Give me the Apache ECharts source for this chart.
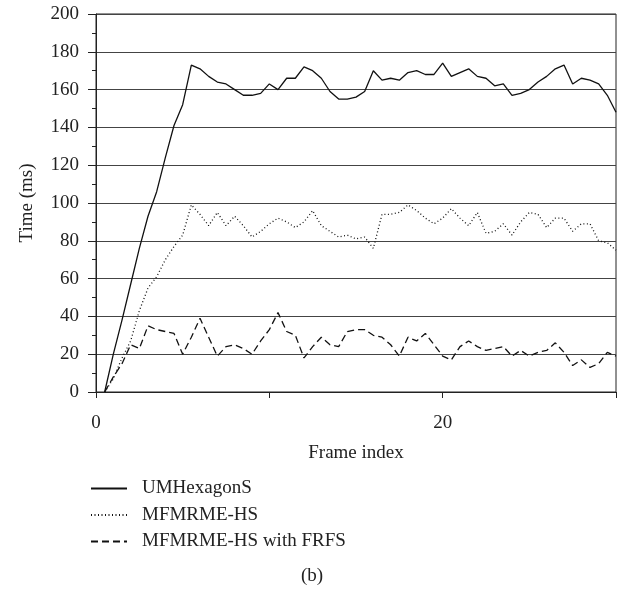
<!DOCTYPE html>
<html>
<head>
<meta charset="utf-8">
<script src="https://cdn.jsdelivr.net/npm/echarts@6/dist/echarts.min.js"></script>
<style>
    html, body { margin: 0; padding: 0; background: #fff; }
    #chart { width: 629px; height: 591px; }
</style>
</head>
<body>
<div id="chart"></div>
<script>
// frame index (half-frame steps as plotted)
var frames = [0.5, 1, 1.5, 2, 2.5, 3, 3.5, 4, 4.5, 5, 5.5, 6, 6.5, 7, 7.5, 8, 8.5, 9, 9.5, 10,
    10.5, 11, 11.5, 12, 12.5, 13, 13.5, 14, 14.5, 15, 15.5, 16, 16.5, 17, 17.5, 18, 18.5, 19, 19.5, 20,
    20.5, 21, 21.5, 22, 22.5, 23, 23.5, 24, 24.5, 25, 25.5, 26, 26.5, 27, 27.5, 28, 28.5, 29, 29.5, 30];

var umhexagons = [0, 20, 38, 57, 76, 93, 106, 124, 141, 152, 173, 171, 167, 164, 163, 160, 157, 157, 158, 163,
    160, 166, 166, 172, 170, 166, 159, 155, 155, 156, 159, 170, 165, 166, 165, 169, 170, 168, 168, 174,
    167, 169, 171, 167, 166, 162, 163, 157, 158, 160, 164, 167, 171, 173, 163, 166, 165, 163, 157, 148];

var mfmrme = [0, 7, 18, 27, 43, 55, 61, 70, 77, 83, 99, 94, 88, 95, 88, 93, 88, 82, 85, 89,
    92, 90, 87, 90, 96, 88, 85, 82, 83, 81, 82, 76, 94, 94, 95, 99, 96, 92, 89, 92,
    97, 92, 88, 95, 84, 85, 89, 83, 90, 95, 94, 87, 92, 92, 85, 89, 89, 80, 79, 75];

var mfmrmeFrfs = [0, 8, 15, 25, 23, 35, 33, 32, 31, 20, 29, 39, 29, 19, 24, 25, 23, 20, 27, 33,
    42, 32, 30, 18, 24, 29, 25, 24, 32, 33, 33, 30, 29, 25, 19, 29, 27, 31, 25, 19,
    17, 24, 27, 24, 22, 23, 24, 19, 22, 19, 21, 22, 26, 21, 14, 17, 13, 15, 21, 19];

var seriesNames = ['UMHexagonS', 'MFMRME-HS', 'MFMRME-HS with FRFS'];

var FONT = 'Liberation Serif';
var FS = 19;

function pairs(values) {
    return frames.map(function (f, i) { return [f, values[i]]; });
}

function lineSeries(name, values, type, width) {
    return {
        name: name,
        type: 'line',
        data: pairs(values),
        symbol: 'none',
        showSymbol: false,
        animation: false,
        itemStyle: { color: '#111' },
        lineStyle: { color: '#111', width: width, type: type }
    };
}

var chart = echarts.init(document.getElementById('chart'));

chart.setOption({
    backgroundColor: '#fff',
    animation: false,
    grid: {
        left: 96, right: 13, top: 14, bottom: 199,
        show: true, borderColor: '#222', borderWidth: 1
    },
    legend: {
        orient: 'vertical',
        left: 85,
        top: 474,
        itemWidth: 36,
        itemHeight: 14,
        itemGap: 7.5,
        data: seriesNames,
        itemStyle: { opacity: 0 },
        textStyle: { fontFamily: FONT, fontSize: FS, color: '#222', padding: [0, 0, 0, 10] }
    },
    xAxis: {
        type: 'value',
        min: 0,
        max: 30,
        interval: 10,
        name: 'Frame index',
        nameLocation: 'middle',
        nameGap: 52,
        nameTextStyle: { fontFamily: FONT, fontSize: FS, color: '#222' },
        axisLine: { lineStyle: { color: '#222' } },
        axisTick: { length: 6, lineStyle: { color: '#222' } },
        splitLine: { show: false },
        axisLabel: {
            margin: 22,
            fontFamily: FONT, fontSize: FS, color: '#222',
            formatter: function (v) { return (v === 0 || v === 20) ? String(v) : ''; }
        }
    },
    yAxis: {
        type: 'value',
        min: 0,
        max: 200,
        interval: 20,
        name: 'Time (ms)',
        nameLocation: 'middle',
        nameGap: 59,
        nameTextStyle: { fontFamily: FONT, fontSize: FS, color: '#222' },
        axisLine: { show: true, lineStyle: { color: '#222' } },
        axisTick: { show: true, length: 8, lineStyle: { color: '#222' } },
        minorTick: { show: true, splitNumber: 2, length: 4, lineStyle: { color: '#222' } },
        splitLine: { lineStyle: { color: '#444', width: 1 } },
        axisLabel: { margin: 17, fontFamily: FONT, fontSize: FS, color: '#222' }
    },
    graphic: [{
        type: 'text',
        left: 301,
        top: 567,
        style: { text: '(b)', font: FS + 'px "Liberation Serif"', fill: '#222' }
    }],
    series: [
        lineSeries(seriesNames[0], umhexagons, 'solid', 1.3),
        lineSeries(seriesNames[1], mfmrme, [1, 2.5], 1.3),
        lineSeries(seriesNames[2], mfmrmeFrfs, [7, 4], 1.3)
    ]
});
</script>
</body>
</html>
